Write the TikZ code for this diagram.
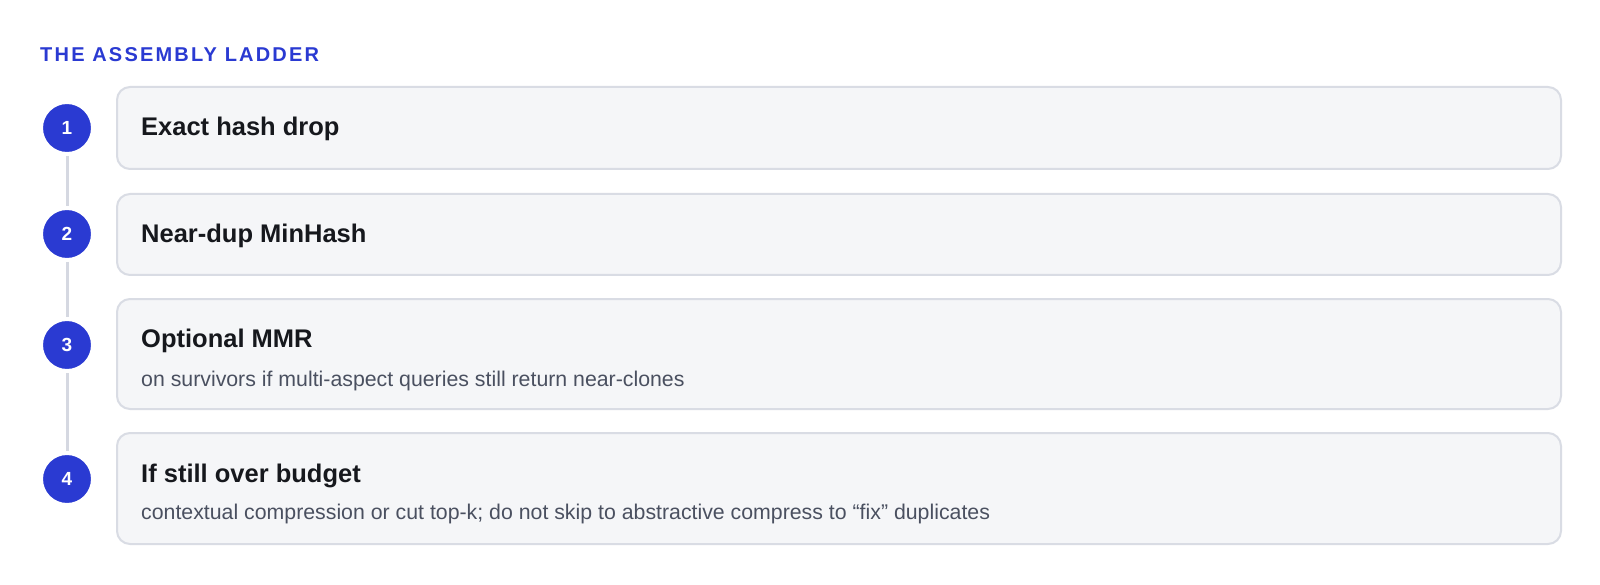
\documentclass[tikz,border=0pt]{standalone}
\usepackage{fontspec}
\setmainfont{Liberation Sans}
\newfontfamily\spacedfont[LetterSpace=11]{Liberation Sans}
\definecolor{brandblue}{HTML}{2A3AD2}
\definecolor{cardfill}{HTML}{F5F6F8}
\definecolor{cardline}{HTML}{D9DCE4}
\definecolor{railgrey}{HTML}{D5D8E1}
\definecolor{titleink}{HTML}{16181D}
\definecolor{subink}{HTML}{4A5060}
\begin{document}
\begin{tikzpicture}[x=1pt,y=-1pt,
  card/.style={draw=cardline, line width=2pt, fill=cardfill, rounded corners=13pt},
  stepdot/.style={circle, fill=brandblue, draw=white, line width=4pt, minimum size=52pt, inner sep=0pt,
    text=white, font=\bfseries\fontsize{19}{20}\selectfont},
  rail/.style={draw=railgrey, line width=3pt},
  cardtitle/.style={anchor=base west, inner sep=0pt, text=titleink, font=\bfseries\fontsize{25.5}{30}\selectfont},
  cardsub/.style={anchor=base west, inner sep=0pt, text=subink, font=\fontsize{21.3}{25}\selectfont},
  heading/.style={anchor=base west, inner sep=0pt, text=brandblue, font=\spacedfont\bfseries\fontsize{20}{24}\selectfont}
]
\useasboundingbox[fill=white] (0,0) rectangle (1600,585);

\node[heading] (head) at (40,62) {THE ASSEMBLY LADDER};

% cards
\path[card] (117,87) rectangle (1561,169);
\path[card] (117,194) rectangle (1561,275);
\path[card] (117,299) rectangle (1561,409);
\path[card] (117,433) rectangle (1561,544);

% step markers
\node[stepdot] (s1) at (67,128) {1};
\node[stepdot] (s2) at (67,234) {2};
\node[stepdot] (s3) at (67,345) {3};
\node[stepdot] (s4) at (67,479) {4};

\draw[rail] (s1) -- (s2);
\draw[rail] (s2) -- (s3);
\draw[rail] (s3) -- (s4);

% texts
\node[cardtitle] (t1) at (141,136) {Exact hash drop};
\node[cardtitle] (t2) at (141,243) {Near-dup MinHash};
\node[cardtitle] (t3) at (141,347) {Optional MMR};
\node[cardsub] (d3) at (141,386) {on survivors if multi-aspect queries still return near-clones};
\node[cardtitle] (t4) at (141,482) {If still over budget};
\node[cardsub] (d4) at (141,519) {contextual compression or cut top-k; do not skip to abstractive compress to “fix” duplicates};
\end{tikzpicture}
\end{document}
